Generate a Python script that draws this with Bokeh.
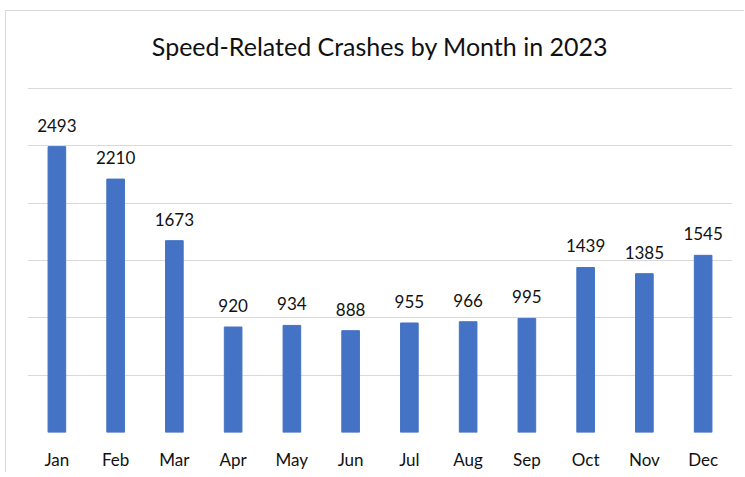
from bokeh.plotting import figure
from bokeh.models import ColumnDataSource, LabelSet, Label, Range1d, FixedTicker
from bokeh.core.properties import value
from bokeh.embed import file_html
from bokeh.resources import INLINE

months = ["Jan", "Feb", "Mar", "Apr", "May", "Jun", "Jul", "Aug", "Sep", "Oct", "Nov", "Dec"]
crashes = [2493, 2210, 1673, 920, 934, 888, 955, 966, 995, 1439, 1385, 1545]
title_text = "Speed-Related Crashes by Month in 2023"
grid_ticks = [0, 500, 1000, 1500, 2000, 2500, 3000]

FONT = "Lato"
src = ColumnDataSource(dict(m=months, v=crashes, t=[str(c) for c in crashes]))

# grid spans 0..3000 over 344 px; extra 60 px of headroom inside the frame holds the title
GRID_PX = 344
HEAD_PX = 60
y_top = 3000 * (GRID_PX + HEAD_PX) / GRID_PX

p = figure(x_range=months, y_range=Range1d(0, y_top), frame_width=705, frame_height=GRID_PX + HEAD_PX,
           min_border_left=21, min_border_right=12, min_border_top=17, min_border_bottom=36,
           output_backend="svg", toolbar_location=None)
p.outline_line_color = None
p.background_fill_color = "white"
p.border_fill_color = "white"
p.styles = {"border-left": "1px solid #d9d9d9", "border-top": "1px solid #d9d9d9",
            "margin-left": "5px", "margin-top": "10px"}

p.vbar(x="m", top="v", width=0.3, source=src, fill_color="#4472C4", line_color="#4472C4")

p.add_layout(LabelSet(x="m", y="v", text="t", source=src, text_align="center",
                      text_baseline="bottom", y_offset=15, text_font=value(FONT),
                      text_font_size=value("17px"), text_color="#111111"))

# chart title, 43 px above the top grid line
p.add_layout(Label(x=len(months) / 2, y=3000 + 43 * 3000 / GRID_PX, text=title_text,
                   text_align="center", text_baseline="middle", text_font=FONT,
                   text_font_size="25px", text_color="#111111"))

p.yaxis.visible = False
p.yaxis.ticker = FixedTicker(ticks=grid_ticks)
p.ygrid.grid_line_color = "#d9d9d9"
p.ygrid.grid_line_width = 1
p.xgrid.grid_line_color = None

p.xaxis.axis_line_color = None
p.xaxis.major_tick_line_color = None
p.xaxis.minor_tick_line_color = None
p.xaxis.major_label_standoff = 10
p.xaxis.major_label_text_font = FONT
p.xaxis.major_label_text_font_size = "17px"
p.xaxis.major_label_text_color = "#111111"

open("out.html", "w").write(file_html(p, INLINE))
